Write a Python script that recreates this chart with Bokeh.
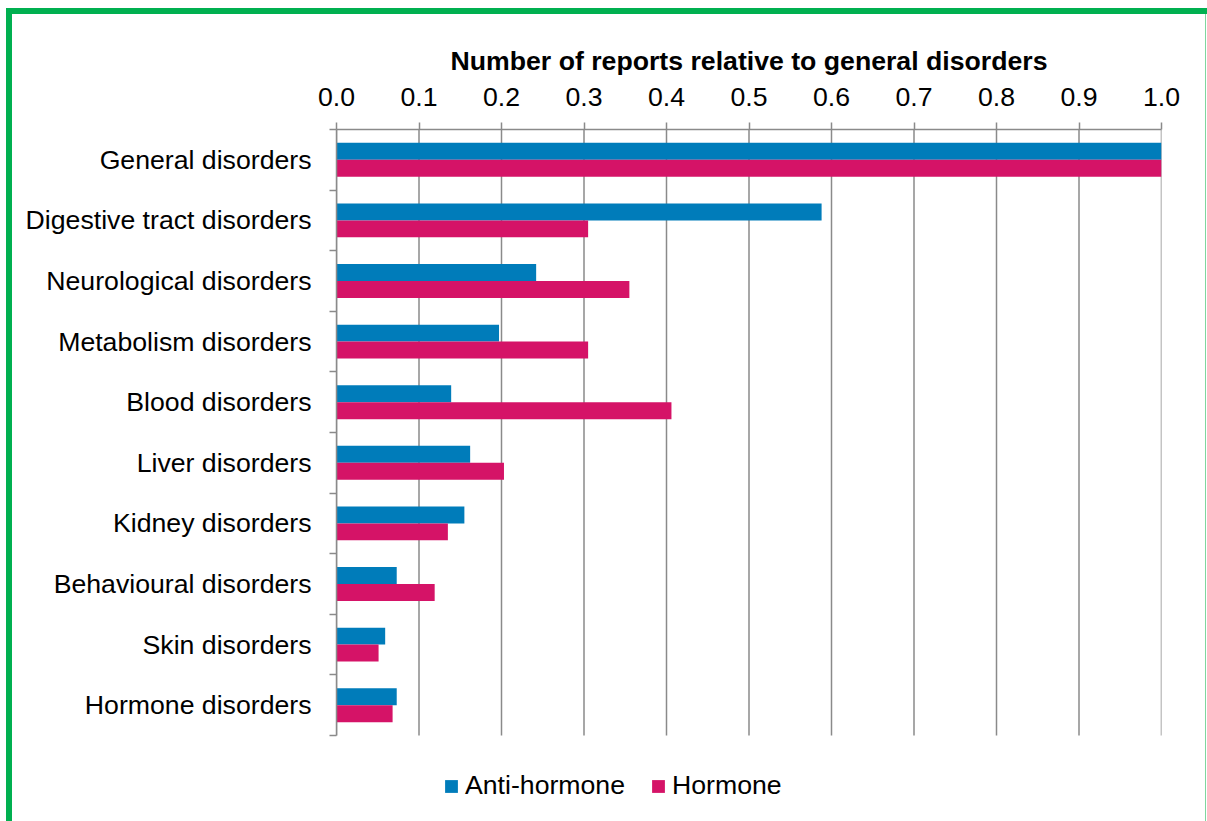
from bokeh.plotting import figure
from bokeh.models import (ColumnDataSource, Range1d, FixedTicker, PrintfTickFormatter,
                          Legend, LegendItem)
from bokeh.transform import dodge
from bokeh.embed import file_html
from bokeh.resources import INLINE

# ---- data ----
categories = ["General disorders", "Digestive tract disorders", "Neurological disorders",
              "Metabolism disorders", "Blood disorders", "Liver disorders", "Kidney disorders",
              "Behavioural disorders", "Skin disorders", "Hormone disorders"]
anti_hormone = [1.0, 0.588, 0.242, 0.197, 0.139, 0.162, 0.155, 0.073, 0.059, 0.073]
hormone = [1.0, 0.305, 0.355, 0.305, 0.406, 0.203, 0.135, 0.119, 0.051, 0.068]
series_names = ["Anti-hormone", "Hormone"]
x_ticks = [0.0, 0.1, 0.2, 0.3, 0.4, 0.5, 0.6, 0.7, 0.8, 0.9, 1.0]
axis_title = "Number of reports relative to general disorders"

# ---- style / layout ----
FONT = "Liberation Sans"
FS = "20pt"
BLUE = "#007CBA"
PINK = "#D51367"
GRAY = "#8A8A8A"
GREEN = "#00B050"
LIGHT_GREEN = "#7FD69E"
W, H = 1207, 821
FRAME_LEFT, FRAME_RIGHT, FRAME_TOP = 336, 1161, 129
BARS_BOTTOM = 735          # where the category area ends; legend lives below it

n = len(categories)
band_px = (BARS_BOTTOM - FRAME_TOP) / n
y_low = -0.5 - (H - BARS_BOTTOM) / band_px

pos = [n - 1 - i for i in range(n)]  # first category at the top
src = ColumnDataSource(dict(cat=categories, pos=pos, anti=anti_hormone, horm=hormone))

p = figure(width=W, height=H, output_backend="svg", toolbar_location=None,
           x_range=Range1d(0, 1), y_range=Range1d(y_low, n - 0.5),
           x_axis_location="above", y_axis_location="left",
           min_border_left=FRAME_LEFT, min_border_right=W - FRAME_RIGHT,
           min_border_top=FRAME_TOP, min_border_bottom=0)
# green frame around the chart (page decoration)
p.styles = {
    "background-color": "white",
    "background-image": (f"linear-gradient({GREEN},{GREEN}), linear-gradient({GREEN},{GREEN}), "
                         f"linear-gradient({LIGHT_GREEN},{LIGHT_GREEN})"),
    "background-position": "6px 8px, 6px 8px, 1205px 8px",
    "background-size": "1201px 6px, 6px 813px, 1px 813px",
    "background-repeat": "no-repeat",
}
p.border_fill_color = None
p.outline_line_color = None
p.background_fill_color = None

# vertical gridlines, limited to the category area
p.xgrid.visible = False
p.ygrid.visible = False
p.segment(x0=x_ticks, x1=x_ticks, y0=[-0.5] * len(x_ticks), y1=[n - 0.5] * len(x_ticks),
          line_color=GRAY, line_width=1.5)

r1 = p.hbar(y=dodge("pos", 0.14), left=0, right="anti", height=0.28,
            source=src, fill_color=BLUE, line_color=None)
r2 = p.hbar(y=dodge("pos", -0.14), left=0, right="horm", height=0.28,
            source=src, fill_color=PINK, line_color=None)

# top axis
xa = p.xaxis[0]
xa.ticker = FixedTicker(ticks=x_ticks)
xa.formatter = PrintfTickFormatter(format="%.1f")
xa.major_tick_out = 7
xa.major_tick_in = 0
xa.minor_tick_line_color = None
xa.axis_line_color = GRAY
xa.axis_line_width = 1.5
xa.major_tick_line_color = GRAY
xa.major_tick_line_width = 1.5
xa.major_label_text_font = FONT
xa.major_label_text_font_size = FS
xa.major_label_text_color = "black"
xa.major_label_standoff = 17
xa.axis_label = axis_title
xa.axis_label_text_font = FONT
xa.axis_label_text_font_size = FS
xa.axis_label_text_font_style = "bold"
xa.axis_label_text_color = "black"
xa.axis_label_standoff = 9

# left axis: labels at category centres, tick marks at category boundaries
ya = p.yaxis[0]
ya.bounds = (-0.5, n - 0.5)
ya.ticker = FixedTicker(ticks=pos, minor_ticks=[k - 0.5 for k in range(n + 1)])
ya.major_label_overrides = {pp: c for pp, c in zip(pos, categories)}
ya.major_tick_line_color = None
ya.major_tick_out = 0
ya.major_tick_in = 0
ya.minor_tick_out = 7
ya.minor_tick_in = 0
ya.minor_tick_line_color = GRAY
ya.minor_tick_line_width = 1.5
ya.axis_line_color = GRAY
ya.axis_line_width = 1.5
ya.major_label_text_font = FONT
ya.major_label_text_font_size = FS
ya.major_label_text_color = "black"
ya.major_label_standoff = 18

legend = Legend(items=[LegendItem(label=series_names[0], renderers=[r1]),
                       LegendItem(label=series_names[1], renderers=[r2])],
                orientation="horizontal", location=(107, 20),
                glyph_width=16, glyph_height=16, label_standoff=6, spacing=25,
                padding=0, margin=0, border_line_color=None, background_fill_alpha=0,
                label_text_font=FONT, label_text_font_size=FS, label_text_color="black")
p.add_layout(legend, "center")

open("out.html", "w").write(file_html(p, INLINE))
